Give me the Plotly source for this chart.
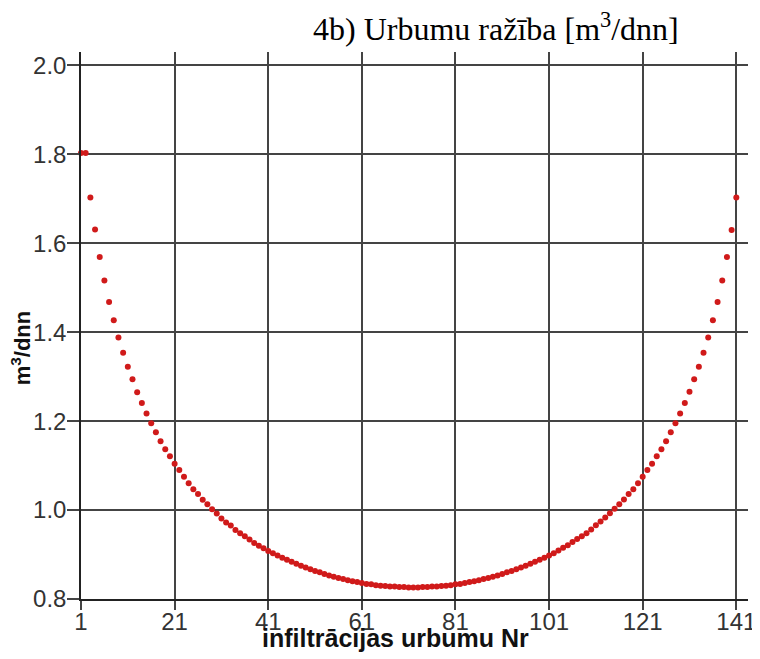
import plotly.graph_objects as go

well_nr = list(range(1, 142))

discharge = [
    1.803, 1.803, 1.703, 1.631, 1.569, 1.516, 1.468, 1.427, 1.388, 1.354,
    1.322, 1.294, 1.265, 1.241, 1.217, 1.195, 1.175, 1.155, 1.137, 1.121,
    1.104, 1.090, 1.075, 1.060, 1.047, 1.036, 1.023, 1.013, 1.002, 0.992,
    0.981, 0.972, 0.965, 0.955, 0.948, 0.941, 0.934, 0.926, 0.920, 0.914,
    0.908, 0.903, 0.898, 0.893, 0.888, 0.884, 0.879, 0.875, 0.871, 0.867,
    0.863, 0.860, 0.856, 0.853, 0.850, 0.847, 0.845, 0.842, 0.840, 0.838,
    0.836, 0.834, 0.833, 0.831, 0.830, 0.829, 0.828, 0.828, 0.827, 0.827,
    0.826, 0.826, 0.826, 0.827, 0.827, 0.828, 0.828, 0.829, 0.830, 0.831,
    0.833, 0.834, 0.836, 0.838, 0.840, 0.842, 0.845, 0.847, 0.850, 0.853,
    0.856, 0.860, 0.863, 0.867, 0.871, 0.875, 0.879, 0.884, 0.888, 0.893,
    0.898, 0.903, 0.909, 0.915, 0.921, 0.928, 0.935, 0.941, 0.948, 0.956,
    0.966, 0.974, 0.983, 0.993, 1.003, 1.013, 1.024, 1.036, 1.047, 1.060,
    1.075, 1.090, 1.104, 1.121, 1.137, 1.155, 1.175, 1.195, 1.217, 1.241,
    1.266, 1.294, 1.322, 1.354, 1.388, 1.427, 1.468, 1.516, 1.569, 1.630,
    1.703,
]

x_ticks = [1, 21, 41, 61, 81, 101, 121, 141]
y_ticks = [0.8, 1.0, 1.2, 1.4, 1.6, 1.8, 2.0]

title_text = "4b) Urbumu ražība [m<sup>3</sup>/dnn]"
x_title = "infiltrācijas urbumu Nr"
y_title = "m<sup>3</sup>/dnn"

fig = go.Figure()
fig.add_trace(go.Scatter(
    x=well_nr, y=discharge, mode="markers",
    marker=dict(size=6, color="#d01a1a", line=dict(width=0)),
    cliponaxis=False, showlegend=False,
))

axis_font = dict(family="Liberation Sans, Arial, sans-serif", size=24, color="#333")

# page body has an 8px default margin, so the figure is sized 752x651
fig.update_layout(
    width=752, height=651,
    margin=dict(l=73, r=12, t=44, b=60, autoexpand=False),
    paper_bgcolor="white", plot_bgcolor="white",
    xaxis=dict(
        range=[1, 143.5], tickmode="array", tickvals=x_ticks,
        ticktext=[str(v) for v in x_ticks], automargin=False,
        showgrid=True, gridcolor="#444", gridwidth=1.5,
        ticks="outside", ticklen=9, tickwidth=1.5, tickcolor="#444",
        showline=True, linecolor="#222", linewidth=1.5,
        zeroline=False, tickfont=axis_font, ticklabelstandoff=-9,
    ),
    yaxis=dict(
        range=[0.8, 2.03], tickmode="array", tickvals=y_ticks,
        ticktext=[f"{v:.1f}" for v in y_ticks], automargin=False,
        showgrid=True, gridcolor="#444", gridwidth=1.5,
        ticks="outside", ticklen=12, tickwidth=1.5, tickcolor="#444",
        showline=True, linecolor="#222", linewidth=1.5,
        zeroline=False, tickfont=axis_font, ticklabelstandoff=-4,
    ),
    annotations=[
        dict(text=title_text, xref="paper", yref="paper", x=0.622, y=1.045,
             xanchor="center", yanchor="middle", showarrow=False,
             font=dict(family="Liberation Serif, Times New Roman, serif", size=32, color="black")),
        dict(text="<b>" + x_title + "</b>", xref="paper", yref="paper", x=0.471, y=-0.071,
             xanchor="center", yanchor="middle", showarrow=False,
             font=dict(family="Liberation Sans, Arial, sans-serif", size=25, color="#111")),
        dict(text="<b>" + y_title + "</b>", xref="paper", yref="paper", x=-0.09, y=0.46,
             xanchor="center", yanchor="middle", showarrow=False, textangle=-90,
             font=dict(family="Liberation Sans, Arial, sans-serif", size=22, color="#111")),
    ],
)

fig.write_html("out.html")
